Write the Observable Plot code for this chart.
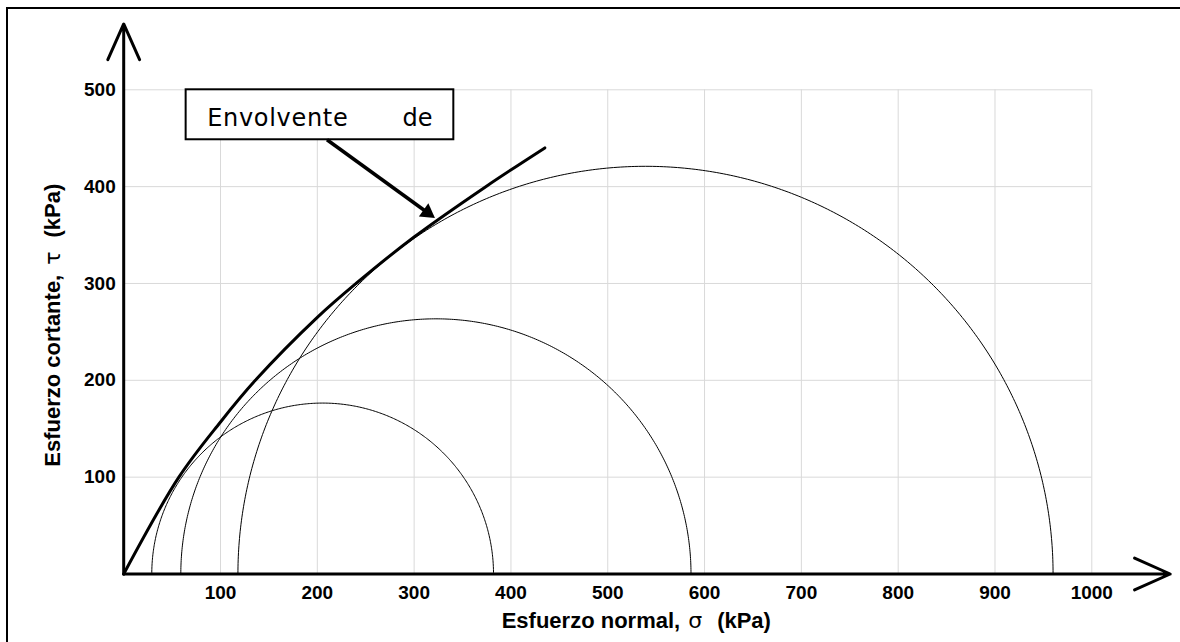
<!DOCTYPE html>
<html>
<head>
<meta charset="utf-8">
<script src="https://cdn.jsdelivr.net/npm/d3@7"></script>
<script src="https://cdn.jsdelivr.net/npm/@observablehq/plot@0.6"></script>
<style>
  html, body { margin: 0; padding: 0; background: #fff; overflow: hidden; }
  #wrap { position: relative; width: 1180px; height: 642px; }
  #frame { position: absolute; left: 6px; top: 7px; width: 1300px; height: 800px;
           border-left: 2px solid #000; border-top: 2px solid #000; pointer-events: none; }
  #chart { position: absolute; left: 0; top: 0; }
</style>
</head>
<body>
<div id="wrap"><div id="chart"></div><div id="frame"></div></div>
<script>
// Mohr circles: minor and major principal stresses (kPa)
const sigma3 = [29, 59, 118];
const sigma1 = [382, 586, 960];

// Failure envelope (kPa)
const envSigma = [0, 57, 100, 136, 200, 240, 300, 374, 435];
const envTau   = [0, 100, 157, 200, 265, 300, 348, 400, 440];

// Tick values
const xTicks = [100, 200, 300, 400, 500, 600, 700, 800, 900, 1000];
const yTicks = [100, 200, 300, 400, 500];

// Axis extents (data units) for the arrowed axes
const axisEnds = [{x1: 0, y1: 0, x2: 1081, y2: 0}, {x1: 0, y1: 0, x2: 0, y2: 568}];

// Annotation "Envolvente de" (data units)
const noteBox = [{x1: 64.5, x2: 341, y1: 448.4, y2: 500}];
const noteLeft = [{text: "Envolvente", x: 86.2, y: 471}];
const noteRight = [{text: "de", x: 318.9, y: 471}];
const noteArrow = [{x1: 210, y1: 448.4, x2: 314, y2: 373}];
const noteHead = [{x: 313.7, y: 373.2}];

// Build tables
const envelope = envSigma.map((s, i) => ({s, t: envTau[i]}));
const circles = [];
sigma3.forEach((s3, k) => {
  const c = (s3 + sigma1[k]) / 2, r = (sigma1[k] - s3) / 2;
  for (let j = 0; j <= 360; j++) {
    const a = Math.PI * j / 360;
    circles.push({id: k, s: c + r * Math.cos(a), t: r * Math.sin(a)});
  }
});

const W = 1180, H = 642;
const plot = Plot.plot({
  width: W, height: H,
  marginLeft: 123.2, marginRight: W - 1091.3, marginTop: 89.3, marginBottom: H - 573.5,
  x: {domain: [0, 1000]},
  y: {domain: [0, 500]},
  style: {fontFamily: "'Liberation Sans', Arial, sans-serif", background: "transparent", overflow: "visible", color: "#000"},
  marks: [
    Plot.ruleX(xTicks, {y1: 0, y2: 500, stroke: "#d9d9d9", strokeWidth: 1}),
    Plot.ruleY(yTicks, {x1: 0, x2: 1000, stroke: "#d9d9d9", strokeWidth: 1}),
    Plot.axisX(xTicks, {tickSize: 0, tickPadding: 11, fontSize: 19, fontWeight: "bold", label: null, tickFormat: d => String(d)}),
    Plot.axisY(yTicks, {tickSize: 0, tickPadding: 8, fontSize: 19, fontWeight: "bold", label: null, tickFormat: d => String(d)}),
    Plot.line(circles, {x: "s", y: "t", z: "id", stroke: "#000", strokeWidth: 1}),
    Plot.line(envelope, {x: "s", y: "t", stroke: "#000", strokeWidth: 3, curve: "catmull-rom"}),
    Plot.arrow(axisEnds, {x1: "x1", y1: "y1", x2: "x2", y2: "y2", stroke: "#000", strokeWidth: 3, headLength: 19.5, headAngle: 48}),
    Plot.rect(noteBox, {x1: "x1", x2: "x2", y1: "y1", y2: "y2", fill: "#fff", stroke: "#000", strokeWidth: 2}),
    Plot.text(noteLeft, {x: "x", y: "y", text: "text", textAnchor: "start", fontSize: 24, fontFamily: "'DejaVu Sans', sans-serif", fill: "#000"}),
    Plot.text(noteRight, {x: "x", y: "y", text: "text", textAnchor: "end", fontSize: 24, fontFamily: "'DejaVu Sans', sans-serif", fill: "#000"}),
    Plot.link(noteArrow, {x1: "x1", y1: "y1", x2: "x2", y2: "y2", stroke: "#000", strokeWidth: 3.5}),
    Plot.dot(noteHead, {x: "x", y: "y", symbol: "triangle", r: 6, fill: "#000", stroke: "none", rotate: 126})
  ]
});
document.getElementById("chart").appendChild(plot);

// letter-spacing for the note word (the original is widely set)
d3.select(plot).selectAll("text").filter(function () { return this.textContent === "Envolvente"; })
  .attr("letter-spacing", "0.7px");

// Axis titles
const svg = d3.select(plot);
const xt = svg.append("text")
  .attr("x", 501.7).attr("y", 628)
  .attr("text-anchor", "start")
  .attr("font-family", "'Liberation Sans', Arial, sans-serif")
  .attr("font-size", 22).attr("fill", "#000");
xt.append("tspan").attr("font-weight", "bold").text("Esfuerzo normal,");
xt.append("tspan").attr("dx", 8).attr("font-weight", "normal").attr("font-family", "'DejaVu Sans', sans-serif").text("σ");
xt.append("tspan").attr("dx", 15).attr("font-weight", "bold").text("(kPa)");

const yt = svg.append("text")
  .attr("transform", "translate(60,466.7) rotate(-90)")
  .attr("text-anchor", "start")
  .attr("font-family", "'Liberation Sans', Arial, sans-serif")
  .attr("font-size", 22).attr("fill", "#000");
yt.append("tspan").attr("font-weight", "bold").text("Esfuerzo cortante,");
yt.append("tspan").attr("dx", 10).attr("font-weight", "normal").attr("font-family", "'DejaVu Sans', sans-serif").text("τ");
yt.append("tspan").attr("dx", 14).attr("font-weight", "bold").text("(kPa)");
</script>
</body>
</html>
